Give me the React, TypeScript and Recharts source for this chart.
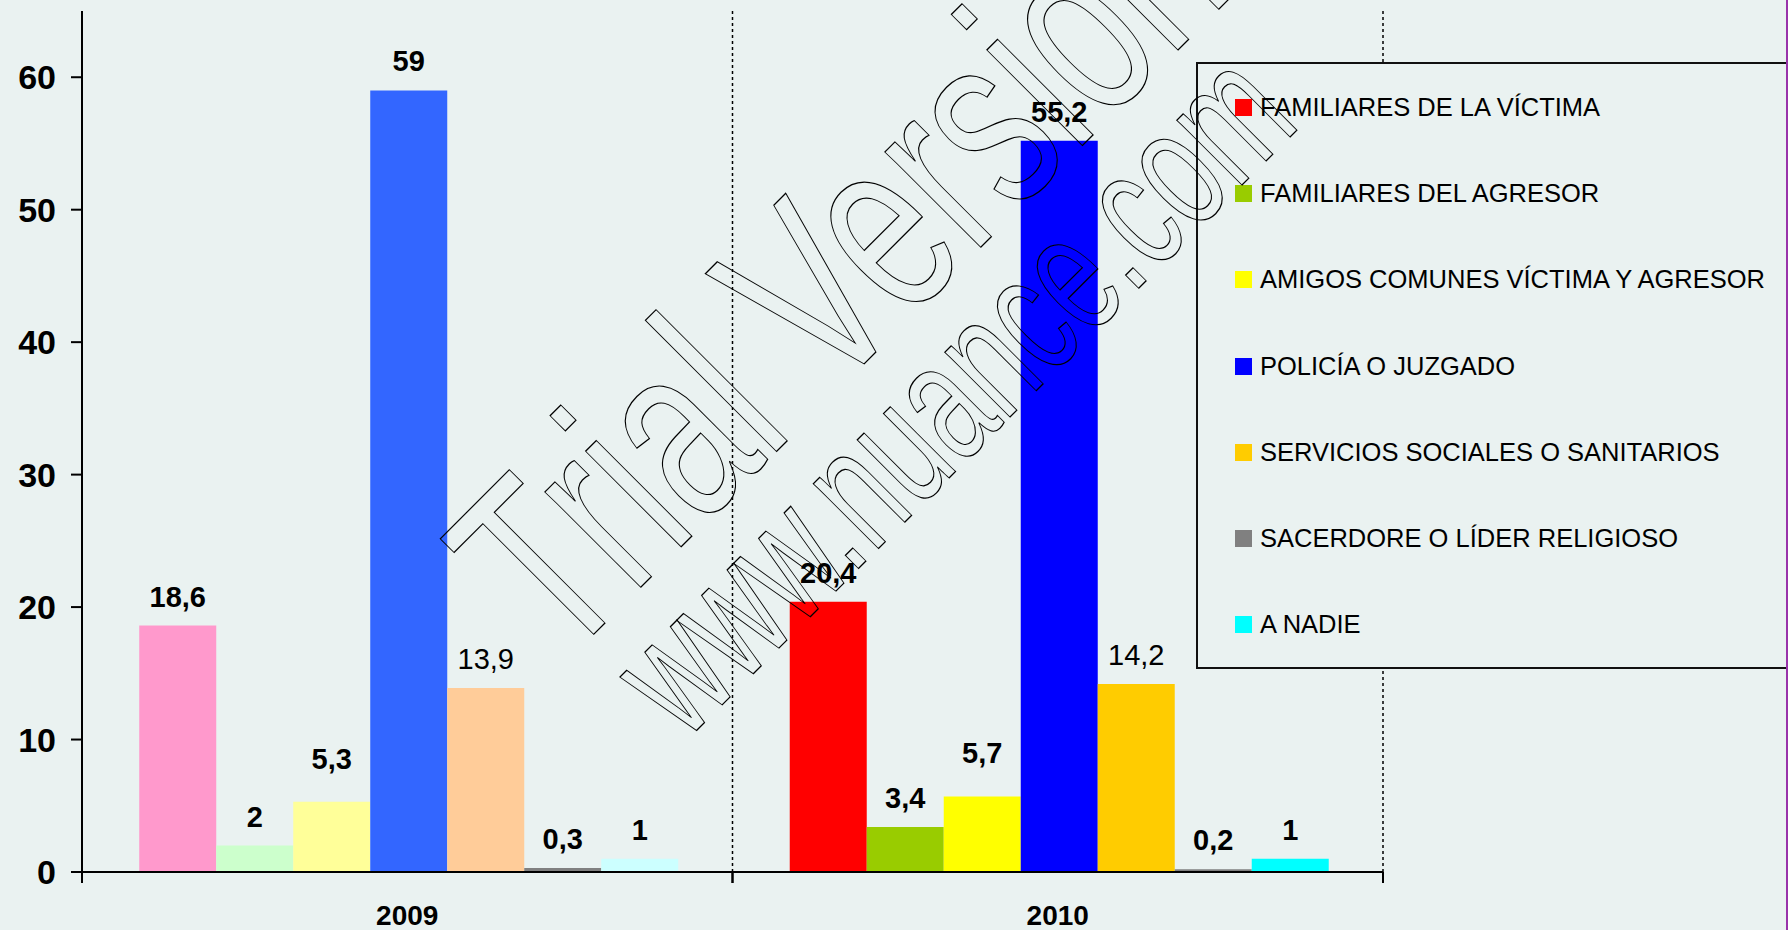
import React from 'react';
import { BarChart, Bar, XAxis, YAxis, Cell, LabelList } from 'recharts';

const years = ['2009', '2010'];
const seriesNames = [
  'FAMILIARES DE LA VÍCTIMA',
  'FAMILIARES DEL AGRESOR',
  'AMIGOS COMUNES VÍCTIMA Y AGRESOR',
  'POLICÍA O JUZGADO',
  'SERVICIOS SOCIALES O SANITARIOS',
  'SACERDORE O LÍDER RELIGIOSO',
  'A NADIE',
];
const values2009 = [18.6, 2, 5.3, 59, 13.9, 0.3, 1];
const values2010 = [20.4, 3.4, 5.7, 55.2, 14.2, 0.2, 1];
const colors2009 = ['#FF99CC', '#CCFFCC', '#FFFF99', '#3366FF', '#FFCC99', '#808080', '#CCFFFF'];
const colors2010 = ['#FF0000', '#99CC00', '#FFFF00', '#0000FF', '#FFCC00', '#808080', '#00FFFF'];
const boldLabels = [true, true, true, true, false, true, true];
const labelOffsets = [19, 19, 33, 19, 19, 19, 19];
const yTicks = [0, 10, 20, 30, 40, 50, 60];

const W = 1788;
const H = 930;
const BG = '#EAF2F1';
const FONT = '"Liberation Sans", Arial, sans-serif';
const MARGIN = { top: 11, right: 405, bottom: 0, left: 12 };
const Y_AXIS_W = 70;
const X_AXIS_H = 58;
const X_TICK_MARGIN = 43;
const BAND = (W - MARGIN.left - MARGIN.right - Y_AXIS_W) / years.length;

const data = years.map((year, yi) => {
  const row: Record<string, any> = { year };
  const vals = yi === 0 ? values2009 : values2010;
  seriesNames.forEach((_, si) => {
    row['s' + si] = vals[si];
  });
  return row;
});

const fmt = (v: any) => String(v).replace('.', ',');

const XTick = (props: any) => {
  const { x, y, payload } = props;
  const axisY = y - X_TICK_MARGIN;
  const half = BAND / 2;
  return (
    <g>
      <line x1={x + half} x2={x + half} y1={MARGIN.top} y2={axisY} stroke="#000" strokeWidth={1.5} strokeDasharray="3 3" />
      <line x1={x - half} x2={x - half} y1={axisY} y2={axisY + 11} stroke="#000" strokeWidth={2} />
      <line x1={x + half} x2={x + half} y1={axisY} y2={axisY + 11} stroke="#000" strokeWidth={2} />
      <text x={x} y={y} textAnchor="middle" dominantBaseline="central" fontFamily={FONT} fontWeight={700} fontSize={28} fill="#000">
        {payload.value}
      </text>
    </g>
  );
};

const LegendBox = () => (
  <div
    style={{
      position: 'absolute',
      left: 1196,
      top: 62,
      width: W - 1196,
      height: 607,
      boxSizing: 'border-box',
      border: '2px solid #111',
      background: BG,
      fontFamily: FONT,
    }}
  >
    {seriesNames.map((name, i) => (
      <div key={name} style={{ height: 86.3, display: 'flex', alignItems: 'center', paddingLeft: 37 }}>
        <div style={{ width: 17, height: 17, background: colors2010[i], marginRight: 8 }} />
        <span style={{ fontSize: 25.5, color: '#000', whiteSpace: 'nowrap' }}>{name}</span>
      </div>
    ))}
  </div>
);

// outlined "trial" stamp lying over the chart
const Watermark = () => (
  <svg width={W} height={H} style={{ position: 'absolute', left: 0, top: 0, pointerEvents: 'none' }}>
    <text
      transform="translate(562 666) rotate(-45) scale(0.676 1)"
      fontFamily={FONT}
      fontSize={256}
      fill="none"
      stroke="#000"
      strokeWidth={1.1}
      vectorEffect="non-scaling-stroke"
    >
      Trial Version
    </text>
    <text
      transform="translate(685 742) rotate(-45) scale(0.64 1)"
      fontFamily={FONT}
      fontSize={174}
      fill="none"
      stroke="#000"
      strokeWidth={1.1}
      vectorEffect="non-scaling-stroke"
    >
      www.nuance.com
    </text>
  </svg>
);

export default function App() {
  return (
    <div style={{ position: 'absolute', left: 0, top: 0, width: W, height: H, background: BG, overflow: 'hidden' }}>
      <BarChart width={W} height={H} data={data} margin={MARGIN} barCategoryGap="8.8%" barGap={0}>
        <XAxis
          dataKey="year"
          height={X_AXIS_H}
          axisLine={{ stroke: '#000', strokeWidth: 2 }}
          tickLine={false}
          tickSize={0}
          tickMargin={X_TICK_MARGIN}
          tick={<XTick />}
          interval={0}
        />
        <YAxis
          width={Y_AXIS_W}
          domain={[0, 65]}
          ticks={yTicks}
          allowDataOverflow
          axisLine={{ stroke: '#000', strokeWidth: 2 }}
          tickLine={{ stroke: '#000', strokeWidth: 2 }}
          tickSize={11}
          tickMargin={15}
          tick={{ fill: '#000', fontSize: 34, fontWeight: 700, fontFamily: FONT }}
        />
        {seriesNames.map((name, si) => (
          <Bar key={name} dataKey={'s' + si} name={name} isAnimationActive={false}>
            {years.map((y, yi) => (
              <Cell key={y} fill={yi === 0 ? colors2009[si] : colors2010[si]} />
            ))}
            <LabelList
              dataKey={'s' + si}
              position="top"
              offset={labelOffsets[si]}
              formatter={fmt}
              fill="#000"
              fontSize={29}
              fontWeight={boldLabels[si] ? 700 : 400}
              fontFamily={FONT}
            />
          </Bar>
        ))}
      </BarChart>
      <LegendBox />
      <Watermark />
      <div style={{ position: 'absolute', left: W - 2, top: 0, width: 2, height: H, background: '#9933AA' }} />
    </div>
  );
}
